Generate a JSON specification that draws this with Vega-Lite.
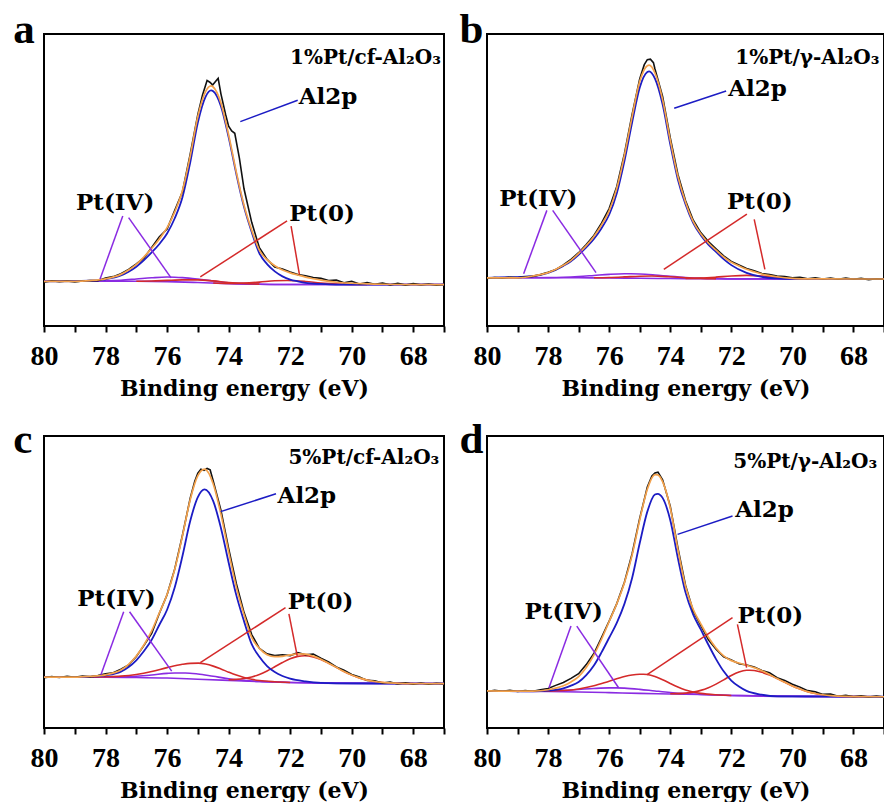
{
"$schema": "https://vega.github.io/schema/vega-lite/v6.json",
"background": "white",
"padding": {"left": 12, "top": 8, "right": 0, "bottom": 0},
"datasets": {
"d": [
{"p":"a","k":"c","s":"bg","x":80,"y":15.3},{"p":"a","k":"c","s":"bg","x":77,"y":15.3},{"p":"a","k":"c","s":"bg","x":76,"y":15.2},{"p":"a","k":"c","s":"bg","x":75,"y":14.9},{"p":"a","k":"c","s":"bg","x":74,"y":14.5},{"p":"a","k":"c","s":"bg","x":73,"y":14.3},{"p":"a","k":"c","s":"bg","x":72,"y":14.2},{"p":"a","k":"c","s":"bg","x":67,"y":14.2},
{"p":"a","k":"c","s":"p4","x":80,"y":15.3},{"p":"a","k":"c","s":"p4","x":78.5,"y":15.32},{"p":"a","k":"c","s":"p4","x":78,"y":15.44},{"p":"a","k":"c","s":"p4","x":77.5,"y":15.68},{"p":"a","k":"c","s":"p4","x":77,"y":16.08},{"p":"a","k":"c","s":"p4","x":76.5,"y":16.5},{"p":"a","k":"c","s":"p4","x":76,"y":16.77},{"p":"a","k":"c","s":"p4","x":75.75,"y":16.72},{"p":"a","k":"c","s":"p4","x":75.5,"y":16.58},{"p":"a","k":"c","s":"p4","x":75,"y":16.06},{"p":"a","k":"c","s":"p4","x":74.5,"y":15.39},{"p":"a","k":"c","s":"p4","x":74,"y":14.82},{"p":"a","k":"c","s":"p4","x":73.5,"y":14.51},{"p":"a","k":"c","s":"p4","x":73,"y":14.32},{"p":"a","k":"c","s":"p4","x":72,"y":14.2},{"p":"a","k":"c","s":"p4","x":67,"y":14.2},
{"p":"a","k":"c","s":"r1","x":74.5,"y":14.72},{"p":"a","k":"c","s":"r1","x":74,"y":14.58},{"p":"a","k":"c","s":"r1","x":73.5,"y":14.7},{"p":"a","k":"c","s":"r1","x":73,"y":15.04},{"p":"a","k":"c","s":"r1","x":72.5,"y":15.49},{"p":"a","k":"c","s":"r1","x":72.1,"y":15.6},{"p":"a","k":"c","s":"r1","x":71.5,"y":15.26},{"p":"a","k":"c","s":"r1","x":71,"y":14.74},{"p":"a","k":"c","s":"r1","x":70.5,"y":14.39},{"p":"a","k":"c","s":"r1","x":70,"y":14.24},{"p":"a","k":"c","s":"r1","x":69.5,"y":14.2},
{"p":"a","k":"c","s":"r2","x":77,"y":15.34},{"p":"a","k":"c","s":"r2","x":76.5,"y":15.4},{"p":"a","k":"c","s":"r2","x":76,"y":15.61},{"p":"a","k":"c","s":"r2","x":75.5,"y":15.79},{"p":"a","k":"c","s":"r2","x":75,"y":15.8},{"p":"a","k":"c","s":"r2","x":74.5,"y":15.44},{"p":"a","k":"c","s":"r2","x":74,"y":14.91},{"p":"a","k":"c","s":"r2","x":73.5,"y":14.55},{"p":"a","k":"c","s":"r2","x":73,"y":14.34},
{"p":"a","k":"c","s":"bl","x":80,"y":15.3},{"p":"a","k":"c","s":"bl","x":78.5,"y":15.5},{"p":"a","k":"c","s":"bl","x":78,"y":16.0},{"p":"a","k":"c","s":"bl","x":77.5,"y":17.3},{"p":"a","k":"c","s":"bl","x":77.25,"y":18.6},{"p":"a","k":"c","s":"bl","x":77,"y":20.3},{"p":"a","k":"c","s":"bl","x":76.75,"y":22.6},{"p":"a","k":"c","s":"bl","x":76.5,"y":25.2},{"p":"a","k":"c","s":"bl","x":76.25,"y":28.1},{"p":"a","k":"c","s":"bl","x":76,"y":31.7},{"p":"a","k":"c","s":"bl","x":75.75,"y":36.9},{"p":"a","k":"c","s":"bl","x":75.5,"y":44.1},{"p":"a","k":"c","s":"bl","x":75.25,"y":55.9},{"p":"a","k":"c","s":"bl","x":75,"y":69.7},{"p":"a","k":"c","s":"bl","x":74.75,"y":78.5},{"p":"a","k":"c","s":"bl","x":74.57,"y":80.7},{"p":"a","k":"c","s":"bl","x":74.5,"y":80.4},{"p":"a","k":"c","s":"bl","x":74.25,"y":75.3},{"p":"a","k":"c","s":"bl","x":74,"y":64.7},{"p":"a","k":"c","s":"bl","x":73.75,"y":52.1},{"p":"a","k":"c","s":"bl","x":73.5,"y":40.8},{"p":"a","k":"c","s":"bl","x":73.25,"y":32.2},{"p":"a","k":"c","s":"bl","x":73,"y":24.9},{"p":"a","k":"c","s":"bl","x":72.75,"y":21.2},{"p":"a","k":"c","s":"bl","x":72.5,"y":18.7},{"p":"a","k":"c","s":"bl","x":72.25,"y":17.0},{"p":"a","k":"c","s":"bl","x":72,"y":15.9},{"p":"a","k":"c","s":"bl","x":71.75,"y":15.3},{"p":"a","k":"c","s":"bl","x":71.5,"y":14.8},{"p":"a","k":"c","s":"bl","x":71,"y":14.4},{"p":"a","k":"c","s":"bl","x":70.5,"y":14.2},{"p":"a","k":"c","s":"bl","x":67,"y":14.2},
{"p":"a","k":"c","s":"or","x":80,"y":15.3},{"p":"a","k":"c","s":"or","x":79,"y":15.3},{"p":"a","k":"c","s":"or","x":78.5,"y":15.54},{"p":"a","k":"c","s":"or","x":78,"y":16.14},{"p":"a","k":"c","s":"or","x":77.5,"y":17.68},{"p":"a","k":"c","s":"or","x":77.25,"y":19.15},{"p":"a","k":"c","s":"or","x":77,"y":21.12},{"p":"a","k":"c","s":"or","x":76.75,"y":23.7},{"p":"a","k":"c","s":"or","x":76.5,"y":26.6},{"p":"a","k":"c","s":"or","x":76.25,"y":29.81},{"p":"a","k":"c","s":"or","x":76,"y":33.68},{"p":"a","k":"c","s":"or","x":75.75,"y":39.08},{"p":"a","k":"c","s":"or","x":75.5,"y":46.37},{"p":"a","k":"c","s":"or","x":75.25,"y":58.14},{"p":"a","k":"c","s":"or","x":75,"y":71.76},{"p":"a","k":"c","s":"or","x":74.75,"y":80.28},{"p":"a","k":"c","s":"or","x":74.57,"y":82.23},{"p":"a","k":"c","s":"or","x":74.5,"y":81.85},{"p":"a","k":"c","s":"or","x":74.25,"y":76.41},{"p":"a","k":"c","s":"or","x":74,"y":65.51},{"p":"a","k":"c","s":"or","x":73.75,"y":52.72},{"p":"a","k":"c","s":"or","x":73.5,"y":41.36},{"p":"a","k":"c","s":"or","x":73.25,"y":32.83},{"p":"a","k":"c","s":"or","x":73,"y":26.0},{"p":"a","k":"c","s":"or","x":72.75,"y":22.7},{"p":"a","k":"c","s":"or","x":72.5,"y":20.64},{"p":"a","k":"c","s":"or","x":72.25,"y":19.17},{"p":"a","k":"c","s":"or","x":72,"y":18.19},{"p":"a","k":"c","s":"or","x":71.75,"y":17.47},{"p":"a","k":"c","s":"or","x":71.5,"y":16.76},{"p":"a","k":"c","s":"or","x":71.25,"y":16.19},{"p":"a","k":"c","s":"or","x":71,"y":15.74},{"p":"a","k":"c","s":"or","x":70.5,"y":14.99},{"p":"a","k":"c","s":"or","x":70,"y":14.64},{"p":"a","k":"c","s":"or","x":69.5,"y":14.45},{"p":"a","k":"c","s":"or","x":69,"y":14.3},{"p":"a","k":"c","s":"or","x":68,"y":14.2},{"p":"a","k":"c","s":"or","x":67,"y":14.2},
{"p":"a","k":"c","s":"k","x":80,"y":15.0},{"p":"a","k":"c","s":"k","x":79.75,"y":15.5},{"p":"a","k":"c","s":"k","x":79.5,"y":15.2},{"p":"a","k":"c","s":"k","x":79.25,"y":15.4},{"p":"a","k":"c","s":"k","x":79,"y":15.1},{"p":"a","k":"c","s":"k","x":78.75,"y":15.4},{"p":"a","k":"c","s":"k","x":78.5,"y":15.6},{"p":"a","k":"c","s":"k","x":78.25,"y":15.5},{"p":"a","k":"c","s":"k","x":78,"y":16.4},{"p":"a","k":"c","s":"k","x":77.75,"y":16.9},{"p":"a","k":"c","s":"k","x":77.5,"y":17.9},{"p":"a","k":"c","s":"k","x":77.25,"y":19.4},{"p":"a","k":"c","s":"k","x":77,"y":21.3},{"p":"a","k":"c","s":"k","x":76.75,"y":23.3},{"p":"a","k":"c","s":"k","x":76.5,"y":26.9},{"p":"a","k":"c","s":"k","x":76.25,"y":30.6},{"p":"a","k":"c","s":"k","x":76,"y":33.2},{"p":"a","k":"c","s":"k","x":75.75,"y":39.6},{"p":"a","k":"c","s":"k","x":75.5,"y":46.0},{"p":"a","k":"c","s":"k","x":75.25,"y":58.8},{"p":"a","k":"c","s":"k","x":75,"y":72.5},{"p":"a","k":"c","s":"k","x":74.85,"y":79.0},{"p":"a","k":"c","s":"k","x":74.7,"y":84.1},{"p":"a","k":"c","s":"k","x":74.6,"y":83.4},{"p":"a","k":"c","s":"k","x":74.52,"y":82.5},{"p":"a","k":"c","s":"k","x":74.42,"y":83.8},{"p":"a","k":"c","s":"k","x":74.34,"y":84.8},{"p":"a","k":"c","s":"k","x":74.25,"y":79.5},{"p":"a","k":"c","s":"k","x":74.1,"y":72.5},{"p":"a","k":"c","s":"k","x":74,"y":68.4},{"p":"a","k":"c","s":"k","x":73.9,"y":66.8},{"p":"a","k":"c","s":"k","x":73.8,"y":66.0},{"p":"a","k":"c","s":"k","x":73.65,"y":57.5},{"p":"a","k":"c","s":"k","x":73.5,"y":47.0},{"p":"a","k":"c","s":"k","x":73.25,"y":35.5},{"p":"a","k":"c","s":"k","x":73,"y":26.8},{"p":"a","k":"c","s":"k","x":72.75,"y":22.8},{"p":"a","k":"c","s":"k","x":72.5,"y":20.2},{"p":"a","k":"c","s":"k","x":72.25,"y":19.5},{"p":"a","k":"c","s":"k","x":72,"y":18.5},{"p":"a","k":"c","s":"k","x":71.75,"y":17.6},{"p":"a","k":"c","s":"k","x":71.5,"y":17.2},{"p":"a","k":"c","s":"k","x":71.25,"y":16.6},{"p":"a","k":"c","s":"k","x":71,"y":16.3},{"p":"a","k":"c","s":"k","x":70.75,"y":15.6},{"p":"a","k":"c","s":"k","x":70.5,"y":15.7},{"p":"a","k":"c","s":"k","x":70.25,"y":14.8},{"p":"a","k":"c","s":"k","x":70,"y":15.3},{"p":"a","k":"c","s":"k","x":69.75,"y":14.4},{"p":"a","k":"c","s":"k","x":69.5,"y":14.9},{"p":"a","k":"c","s":"k","x":69.25,"y":14.3},{"p":"a","k":"c","s":"k","x":69,"y":14.7},{"p":"a","k":"c","s":"k","x":68.75,"y":14.1},{"p":"a","k":"c","s":"k","x":68.5,"y":14.6},{"p":"a","k":"c","s":"k","x":68.25,"y":14.0},{"p":"a","k":"c","s":"k","x":68,"y":14.5},{"p":"a","k":"c","s":"k","x":67.75,"y":14.1},{"p":"a","k":"c","s":"k","x":67.5,"y":14.4},{"p":"a","k":"c","s":"k","x":67.25,"y":14.0},{"p":"a","k":"c","s":"k","x":67,"y":14.2},

{"p":"b","k":"c","s":"bg","x":80,"y":16.5},{"p":"b","k":"c","s":"bg","x":77,"y":16.5},{"p":"b","k":"c","s":"bg","x":76,"y":16.45},{"p":"b","k":"c","s":"bg","x":75,"y":16.35},{"p":"b","k":"c","s":"bg","x":74,"y":16.25},{"p":"b","k":"c","s":"bg","x":73,"y":16.2},{"p":"b","k":"c","s":"bg","x":72,"y":16.15},{"p":"b","k":"c","s":"bg","x":67,"y":16.1},
{"p":"b","k":"c","s":"p4","x":80,"y":16.5},{"p":"b","k":"c","s":"p4","x":78.5,"y":16.52},{"p":"b","k":"c","s":"p4","x":78,"y":16.57},{"p":"b","k":"c","s":"p4","x":77.5,"y":16.7},{"p":"b","k":"c","s":"p4","x":77,"y":16.95},{"p":"b","k":"c","s":"p4","x":76.5,"y":17.31},{"p":"b","k":"c","s":"p4","x":76,"y":17.68},{"p":"b","k":"c","s":"p4","x":75.5,"y":17.88},{"p":"b","k":"c","s":"p4","x":75.3,"y":17.88},{"p":"b","k":"c","s":"p4","x":75,"y":17.8},{"p":"b","k":"c","s":"p4","x":74.5,"y":17.45},{"p":"b","k":"c","s":"p4","x":74,"y":17.0},{"p":"b","k":"c","s":"p4","x":73.5,"y":16.62},{"p":"b","k":"c","s":"p4","x":73,"y":16.37},{"p":"b","k":"c","s":"p4","x":72.5,"y":16.24},{"p":"b","k":"c","s":"p4","x":72,"y":16.15},{"p":"b","k":"c","s":"p4","x":67,"y":16.1},
{"p":"b","k":"c","s":"r1","x":73.5,"y":16.28},{"p":"b","k":"c","s":"r1","x":73,"y":16.41},{"p":"b","k":"c","s":"r1","x":72.5,"y":16.73},{"p":"b","k":"c","s":"r1","x":72,"y":17.14},{"p":"b","k":"c","s":"r1","x":71.5,"y":17.34},{"p":"b","k":"c","s":"r1","x":71,"y":17.12},{"p":"b","k":"c","s":"r1","x":70.5,"y":16.67},{"p":"b","k":"c","s":"r1","x":70,"y":16.33},{"p":"b","k":"c","s":"r1","x":69.5,"y":16.16},
{"p":"b","k":"c","s":"r2","x":76.5,"y":16.53},{"p":"b","k":"c","s":"r2","x":76,"y":16.62},{"p":"b","k":"c","s":"r2","x":75.5,"y":16.82},{"p":"b","k":"c","s":"r2","x":75,"y":17.06},{"p":"b","k":"c","s":"r2","x":74.6,"y":17.1},{"p":"b","k":"c","s":"r2","x":74,"y":16.85},{"p":"b","k":"c","s":"r2","x":73.5,"y":16.54},{"p":"b","k":"c","s":"r2","x":73,"y":16.31},{"p":"b","k":"c","s":"r2","x":72.5,"y":16.21},
{"p":"b","k":"c","s":"bl","x":80,"y":16.5},{"p":"b","k":"c","s":"bl","x":78.5,"y":17.1},{"p":"b","k":"c","s":"bl","x":78,"y":18.2},{"p":"b","k":"c","s":"bl","x":77.5,"y":20.6},{"p":"b","k":"c","s":"bl","x":77.25,"y":22.2},{"p":"b","k":"c","s":"bl","x":77,"y":24.4},{"p":"b","k":"c","s":"bl","x":76.75,"y":26.9},{"p":"b","k":"c","s":"bl","x":76.5,"y":29.8},{"p":"b","k":"c","s":"bl","x":76.25,"y":33.5},{"p":"b","k":"c","s":"bl","x":76,"y":38.1},{"p":"b","k":"c","s":"bl","x":75.75,"y":45.5},{"p":"b","k":"c","s":"bl","x":75.5,"y":56.5},{"p":"b","k":"c","s":"bl","x":75.25,"y":69.6},{"p":"b","k":"c","s":"bl","x":75,"y":81.6},{"p":"b","k":"c","s":"bl","x":74.75,"y":87.0},{"p":"b","k":"c","s":"bl","x":74.69,"y":87.2},{"p":"b","k":"c","s":"bl","x":74.5,"y":84.7},{"p":"b","k":"c","s":"bl","x":74.25,"y":75.9},{"p":"b","k":"c","s":"bl","x":74,"y":62.3},{"p":"b","k":"c","s":"bl","x":73.75,"y":50.2},{"p":"b","k":"c","s":"bl","x":73.5,"y":41.7},{"p":"b","k":"c","s":"bl","x":73.25,"y":35.3},{"p":"b","k":"c","s":"bl","x":73,"y":31.1},{"p":"b","k":"c","s":"bl","x":72.75,"y":27.9},{"p":"b","k":"c","s":"bl","x":72.5,"y":25.4},{"p":"b","k":"c","s":"bl","x":72.25,"y":22.9},{"p":"b","k":"c","s":"bl","x":72,"y":20.85},{"p":"b","k":"c","s":"bl","x":71.5,"y":18.2},{"p":"b","k":"c","s":"bl","x":71,"y":16.8},{"p":"b","k":"c","s":"bl","x":70.5,"y":16.3},{"p":"b","k":"c","s":"bl","x":70,"y":16.12},{"p":"b","k":"c","s":"bl","x":67,"y":16.1},
{"p":"b","k":"c","s":"or","x":80,"y":16.5},{"p":"b","k":"c","s":"or","x":79,"y":16.5},{"p":"b","k":"c","s":"or","x":78.5,"y":17.12},{"p":"b","k":"c","s":"or","x":78,"y":18.27},{"p":"b","k":"c","s":"or","x":77.5,"y":20.8},{"p":"b","k":"c","s":"or","x":77.25,"y":22.5},{"p":"b","k":"c","s":"or","x":77,"y":24.85},{"p":"b","k":"c","s":"or","x":76.75,"y":27.51},{"p":"b","k":"c","s":"or","x":76.5,"y":30.66},{"p":"b","k":"c","s":"or","x":76.25,"y":34.59},{"p":"b","k":"c","s":"or","x":76,"y":39.45},{"p":"b","k":"c","s":"or","x":75.75,"y":47.18},{"p":"b","k":"c","s":"or","x":75.5,"y":58.4},{"p":"b","k":"c","s":"or","x":75.25,"y":71.63},{"p":"b","k":"c","s":"or","x":75,"y":83.71},{"p":"b","k":"c","s":"or","x":74.75,"y":89.13},{"p":"b","k":"c","s":"or","x":74.69,"y":89.31},{"p":"b","k":"c","s":"or","x":74.5,"y":86.64},{"p":"b","k":"c","s":"or","x":74.25,"y":77.54},{"p":"b","k":"c","s":"or","x":74,"y":63.7},{"p":"b","k":"c","s":"or","x":73.75,"y":51.26},{"p":"b","k":"c","s":"or","x":73.5,"y":42.48},{"p":"b","k":"c","s":"or","x":73.25,"y":35.87},{"p":"b","k":"c","s":"or","x":73,"y":31.59},{"p":"b","k":"c","s":"or","x":72.75,"y":28.41},{"p":"b","k":"c","s":"or","x":72.5,"y":25.98},{"p":"b","k":"c","s":"or","x":72.25,"y":23.63},{"p":"b","k":"c","s":"or","x":72,"y":21.84},{"p":"b","k":"c","s":"or","x":71.75,"y":20.59},{"p":"b","k":"c","s":"or","x":71.5,"y":19.44},{"p":"b","k":"c","s":"or","x":71.25,"y":18.57},{"p":"b","k":"c","s":"or","x":71,"y":17.82},{"p":"b","k":"c","s":"or","x":70.5,"y":16.87},{"p":"b","k":"c","s":"or","x":70,"y":16.33},{"p":"b","k":"c","s":"or","x":69.5,"y":16.16},{"p":"b","k":"c","s":"or","x":69,"y":16.11},{"p":"b","k":"c","s":"or","x":67,"y":16.1},
{"p":"b","k":"c","s":"k","x":80,"y":16.3},{"p":"b","k":"c","s":"k","x":79.75,"y":16.6},{"p":"b","k":"c","s":"k","x":79.5,"y":16.4},{"p":"b","k":"c","s":"k","x":79.25,"y":16.7},{"p":"b","k":"c","s":"k","x":79,"y":16.5},{"p":"b","k":"c","s":"k","x":78.75,"y":16.8},{"p":"b","k":"c","s":"k","x":78.5,"y":17.0},{"p":"b","k":"c","s":"k","x":78.25,"y":17.6},{"p":"b","k":"c","s":"k","x":78,"y":18.4},{"p":"b","k":"c","s":"k","x":77.75,"y":19.3},{"p":"b","k":"c","s":"k","x":77.5,"y":20.9},{"p":"b","k":"c","s":"k","x":77.25,"y":22.8},{"p":"b","k":"c","s":"k","x":77,"y":25.1},{"p":"b","k":"c","s":"k","x":76.75,"y":27.9},{"p":"b","k":"c","s":"k","x":76.5,"y":31.0},{"p":"b","k":"c","s":"k","x":76.25,"y":35.2},{"p":"b","k":"c","s":"k","x":76,"y":40.2},{"p":"b","k":"c","s":"k","x":75.75,"y":47.8},{"p":"b","k":"c","s":"k","x":75.5,"y":59.0},{"p":"b","k":"c","s":"k","x":75.25,"y":72.4},{"p":"b","k":"c","s":"k","x":75,"y":84.6},{"p":"b","k":"c","s":"k","x":74.85,"y":89.5},{"p":"b","k":"c","s":"k","x":74.75,"y":91.2},{"p":"b","k":"c","s":"k","x":74.65,"y":91.4},{"p":"b","k":"c","s":"k","x":74.55,"y":90.2},{"p":"b","k":"c","s":"k","x":74.5,"y":88.0},{"p":"b","k":"c","s":"k","x":74.25,"y":78.6},{"p":"b","k":"c","s":"k","x":74,"y":64.5},{"p":"b","k":"c","s":"k","x":73.75,"y":52.0},{"p":"b","k":"c","s":"k","x":73.5,"y":43.0},{"p":"b","k":"c","s":"k","x":73.25,"y":36.3},{"p":"b","k":"c","s":"k","x":73,"y":32.0},{"p":"b","k":"c","s":"k","x":72.75,"y":28.9},{"p":"b","k":"c","s":"k","x":72.5,"y":26.4},{"p":"b","k":"c","s":"k","x":72.25,"y":24.0},{"p":"b","k":"c","s":"k","x":72,"y":22.1},{"p":"b","k":"c","s":"k","x":71.75,"y":20.9},{"p":"b","k":"c","s":"k","x":71.5,"y":19.7},{"p":"b","k":"c","s":"k","x":71.25,"y":18.9},{"p":"b","k":"c","s":"k","x":71,"y":18.0},{"p":"b","k":"c","s":"k","x":70.75,"y":17.6},{"p":"b","k":"c","s":"k","x":70.5,"y":17.1},{"p":"b","k":"c","s":"k","x":70.25,"y":16.9},{"p":"b","k":"c","s":"k","x":70,"y":16.5},{"p":"b","k":"c","s":"k","x":69.75,"y":16.7},{"p":"b","k":"c","s":"k","x":69.5,"y":16.2},{"p":"b","k":"c","s":"k","x":69.25,"y":16.5},{"p":"b","k":"c","s":"k","x":69,"y":16.1},{"p":"b","k":"c","s":"k","x":68.75,"y":16.4},{"p":"b","k":"c","s":"k","x":68.5,"y":16.0},{"p":"b","k":"c","s":"k","x":68.25,"y":16.4},{"p":"b","k":"c","s":"k","x":68,"y":16.0},{"p":"b","k":"c","s":"k","x":67.75,"y":16.3},{"p":"b","k":"c","s":"k","x":67.5,"y":15.9},{"p":"b","k":"c","s":"k","x":67.25,"y":16.2},{"p":"b","k":"c","s":"k","x":67,"y":16.0},

{"p":"c","k":"c","s":"bg","x":80,"y":17.4},{"p":"c","k":"c","s":"bg","x":78,"y":17.4},{"p":"c","k":"c","s":"bg","x":77,"y":17.3},{"p":"c","k":"c","s":"bg","x":76,"y":17.1},{"p":"c","k":"c","s":"bg","x":75,"y":16.7},{"p":"c","k":"c","s":"bg","x":74,"y":16.3},{"p":"c","k":"c","s":"bg","x":73,"y":15.9},{"p":"c","k":"c","s":"bg","x":72,"y":15.6},{"p":"c","k":"c","s":"bg","x":71,"y":15.35},{"p":"c","k":"c","s":"bg","x":70,"y":15.25},{"p":"c","k":"c","s":"bg","x":67,"y":15.2},
{"p":"c","k":"c","s":"p4","x":80,"y":17.4},{"p":"c","k":"c","s":"p4","x":78.5,"y":17.4},{"p":"c","k":"c","s":"p4","x":78,"y":17.43},{"p":"c","k":"c","s":"p4","x":77.5,"y":17.49},{"p":"c","k":"c","s":"p4","x":77,"y":17.72},{"p":"c","k":"c","s":"p4","x":76.5,"y":18.16},{"p":"c","k":"c","s":"p4","x":76,"y":18.71},{"p":"c","k":"c","s":"p4","x":75.75,"y":18.86},{"p":"c","k":"c","s":"p4","x":75.41,"y":18.86},{"p":"c","k":"c","s":"p4","x":75,"y":18.5},{"p":"c","k":"c","s":"p4","x":74.5,"y":17.7},{"p":"c","k":"c","s":"p4","x":74,"y":16.89},{"p":"c","k":"c","s":"p4","x":73.5,"y":16.31},{"p":"c","k":"c","s":"p4","x":73,"y":15.96},{"p":"c","k":"c","s":"p4","x":72.5,"y":15.75},{"p":"c","k":"c","s":"p4","x":72,"y":15.6},{"p":"c","k":"c","s":"p4","x":67,"y":15.2},
{"p":"c","k":"c","s":"r2","x":78.5,"y":17.43},{"p":"c","k":"c","s":"r2","x":78,"y":17.53},{"p":"c","k":"c","s":"r2","x":77.5,"y":17.75},{"p":"c","k":"c","s":"r2","x":77,"y":18.32},{"p":"c","k":"c","s":"r2","x":76.5,"y":19.32},{"p":"c","k":"c","s":"r2","x":76,"y":20.68},{"p":"c","k":"c","s":"r2","x":75.5,"y":21.82},{"p":"c","k":"c","s":"r2","x":75.25,"y":22.14},{"p":"c","k":"c","s":"r2","x":74.98,"y":22.21},{"p":"c","k":"c","s":"r2","x":74.75,"y":21.9},{"p":"c","k":"c","s":"r2","x":74.5,"y":21.19},{"p":"c","k":"c","s":"r2","x":74.25,"y":20.21},{"p":"c","k":"c","s":"r2","x":74,"y":19.13},{"p":"c","k":"c","s":"r2","x":73.75,"y":18.13},{"p":"c","k":"c","s":"r2","x":73.5,"y":17.31},{"p":"c","k":"c","s":"r2","x":73.25,"y":16.69},{"p":"c","k":"c","s":"r2","x":73,"y":16.26},{"p":"c","k":"c","s":"r2","x":72.5,"y":15.83},{"p":"c","k":"c","s":"r2","x":72,"y":15.6},
{"p":"c","k":"c","s":"r1","x":74,"y":16.51},{"p":"c","k":"c","s":"r1","x":73.75,"y":16.65},{"p":"c","k":"c","s":"r1","x":73.5,"y":16.95},{"p":"c","k":"c","s":"r1","x":73.25,"y":17.5},{"p":"c","k":"c","s":"r1","x":73,"y":18.35},{"p":"c","k":"c","s":"r1","x":72.75,"y":19.53},{"p":"c","k":"c","s":"r1","x":72.5,"y":20.95},{"p":"c","k":"c","s":"r1","x":72.25,"y":22.42},{"p":"c","k":"c","s":"r1","x":72,"y":23.72},{"p":"c","k":"c","s":"r1","x":71.75,"y":24.53},{"p":"c","k":"c","s":"r1","x":71.53,"y":24.76},{"p":"c","k":"c","s":"r1","x":71.25,"y":24.35},{"p":"c","k":"c","s":"r1","x":71,"y":23.43},{"p":"c","k":"c","s":"r1","x":70.75,"y":22.18},{"p":"c","k":"c","s":"r1","x":70.5,"y":20.77},{"p":"c","k":"c","s":"r1","x":70.25,"y":19.37},{"p":"c","k":"c","s":"r1","x":70,"y":18.13},{"p":"c","k":"c","s":"r1","x":69.75,"y":17.15},{"p":"c","k":"c","s":"r1","x":69.5,"y":16.42},{"p":"c","k":"c","s":"r1","x":69.25,"y":15.92},{"p":"c","k":"c","s":"r1","x":69,"y":15.6},{"p":"c","k":"c","s":"r1","x":68.5,"y":15.3},{"p":"c","k":"c","s":"r1","x":68,"y":15.2},
{"p":"c","k":"c","s":"bl","x":80,"y":17.4},{"p":"c","k":"c","s":"bl","x":78.5,"y":17.6},{"p":"c","k":"c","s":"bl","x":78,"y":18.05},{"p":"c","k":"c","s":"bl","x":77.5,"y":19.3},{"p":"c","k":"c","s":"bl","x":77.25,"y":20.9},{"p":"c","k":"c","s":"bl","x":77,"y":23.2},{"p":"c","k":"c","s":"bl","x":76.75,"y":26.35},{"p":"c","k":"c","s":"bl","x":76.5,"y":30.2},{"p":"c","k":"c","s":"bl","x":76.25,"y":35.35},{"p":"c","k":"c","s":"bl","x":76,"y":40.5},{"p":"c","k":"c","s":"bl","x":75.75,"y":48.2},{"p":"c","k":"c","s":"bl","x":75.5,"y":58.9},{"p":"c","k":"c","s":"bl","x":75.25,"y":70.8},{"p":"c","k":"c","s":"bl","x":75,"y":79.1},{"p":"c","k":"c","s":"bl","x":74.78,"y":81.72},{"p":"c","k":"c","s":"bl","x":74.5,"y":77.7},{"p":"c","k":"c","s":"bl","x":74.25,"y":68.5},{"p":"c","k":"c","s":"bl","x":74,"y":56.7},{"p":"c","k":"c","s":"bl","x":73.75,"y":45.5},{"p":"c","k":"c","s":"bl","x":73.5,"y":36.6},{"p":"c","k":"c","s":"bl","x":73.25,"y":28.7},{"p":"c","k":"c","s":"bl","x":73,"y":24.4},{"p":"c","k":"c","s":"bl","x":72.75,"y":21.2},{"p":"c","k":"c","s":"bl","x":72.5,"y":19.15},{"p":"c","k":"c","s":"bl","x":72.25,"y":17.8},{"p":"c","k":"c","s":"bl","x":72,"y":16.9},{"p":"c","k":"c","s":"bl","x":71.5,"y":15.97},{"p":"c","k":"c","s":"bl","x":71,"y":15.45},{"p":"c","k":"c","s":"bl","x":70.5,"y":15.3},{"p":"c","k":"c","s":"bl","x":67,"y":15.2},
{"p":"c","k":"c","s":"or","x":80,"y":17.4},{"p":"c","k":"c","s":"or","x":79,"y":17.4},{"p":"c","k":"c","s":"or","x":78.5,"y":17.68},{"p":"c","k":"c","s":"or","x":78,"y":18.21},{"p":"c","k":"c","s":"or","x":77.5,"y":19.84},{"p":"c","k":"c","s":"or","x":77.25,"y":21.82},{"p":"c","k":"c","s":"or","x":77,"y":24.64},{"p":"c","k":"c","s":"or","x":76.75,"y":28.52},{"p":"c","k":"c","s":"or","x":76.5,"y":33.28},{"p":"c","k":"c","s":"or","x":76.25,"y":39.47},{"p":"c","k":"c","s":"or","x":76,"y":45.69},{"p":"c","k":"c","s":"or","x":75.75,"y":54.37},{"p":"c","k":"c","s":"or","x":75.5,"y":65.8},{"p":"c","k":"c","s":"or","x":75.25,"y":78.11},{"p":"c","k":"c","s":"or","x":75,"y":86.4},{"p":"c","k":"c","s":"or","x":74.78,"y":88.67},{"p":"c","k":"c","s":"or","x":74.5,"y":83.59},{"p":"c","k":"c","s":"or","x":74.25,"y":73.23},{"p":"c","k":"c","s":"or","x":74,"y":60.33},{"p":"c","k":"c","s":"or","x":73.75,"y":48.25},{"p":"c","k":"c","s":"or","x":73.5,"y":38.87},{"p":"c","k":"c","s":"or","x":73.25,"y":31.01},{"p":"c","k":"c","s":"or","x":73,"y":27.27},{"p":"c","k":"c","s":"or","x":72.75,"y":25.11},{"p":"c","k":"c","s":"or","x":72.5,"y":24.43},{"p":"c","k":"c","s":"or","x":72.25,"y":24.55},{"p":"c","k":"c","s":"or","x":72,"y":25.02},{"p":"c","k":"c","s":"or","x":71.75,"y":25.38},{"p":"c","k":"c","s":"or","x":71.5,"y":25.27},{"p":"c","k":"c","s":"or","x":71.25,"y":24.6},{"p":"c","k":"c","s":"or","x":71,"y":23.53},{"p":"c","k":"c","s":"or","x":70.75,"y":22.18},{"p":"c","k":"c","s":"or","x":70.5,"y":20.77},{"p":"c","k":"c","s":"or","x":70.25,"y":19.37},{"p":"c","k":"c","s":"or","x":70,"y":18.13},{"p":"c","k":"c","s":"or","x":69.75,"y":17.15},{"p":"c","k":"c","s":"or","x":69.5,"y":16.42},{"p":"c","k":"c","s":"or","x":69.25,"y":15.92},{"p":"c","k":"c","s":"or","x":69,"y":15.6},{"p":"c","k":"c","s":"or","x":68.5,"y":15.31},{"p":"c","k":"c","s":"or","x":68,"y":15.2},{"p":"c","k":"c","s":"or","x":67,"y":15.2},
{"p":"c","k":"c","s":"k","x":80,"y":17.2},{"p":"c","k":"c","s":"k","x":79.75,"y":17.6},{"p":"c","k":"c","s":"k","x":79.5,"y":17.3},{"p":"c","k":"c","s":"k","x":79.25,"y":17.7},{"p":"c","k":"c","s":"k","x":79,"y":17.4},{"p":"c","k":"c","s":"k","x":78.75,"y":17.8},{"p":"c","k":"c","s":"k","x":78.5,"y":17.5},{"p":"c","k":"c","s":"k","x":78.25,"y":18.0},{"p":"c","k":"c","s":"k","x":78,"y":18.6},{"p":"c","k":"c","s":"k","x":77.75,"y":18.9},{"p":"c","k":"c","s":"k","x":77.5,"y":20.1},{"p":"c","k":"c","s":"k","x":77.25,"y":21.6},{"p":"c","k":"c","s":"k","x":77,"y":24.5},{"p":"c","k":"c","s":"k","x":76.75,"y":28.3},{"p":"c","k":"c","s":"k","x":76.5,"y":32.4},{"p":"c","k":"c","s":"k","x":76.25,"y":39.3},{"p":"c","k":"c","s":"k","x":76,"y":45.6},{"p":"c","k":"c","s":"k","x":75.75,"y":54.5},{"p":"c","k":"c","s":"k","x":75.5,"y":66.0},{"p":"c","k":"c","s":"k","x":75.25,"y":78.6},{"p":"c","k":"c","s":"k","x":75.1,"y":84.5},{"p":"c","k":"c","s":"k","x":75,"y":87.3},{"p":"c","k":"c","s":"k","x":74.9,"y":88.6},{"p":"c","k":"c","s":"k","x":74.8,"y":88.2},{"p":"c","k":"c","s":"k","x":74.7,"y":88.9},{"p":"c","k":"c","s":"k","x":74.6,"y":88.4},{"p":"c","k":"c","s":"k","x":74.5,"y":84.6},{"p":"c","k":"c","s":"k","x":74.25,"y":74.6},{"p":"c","k":"c","s":"k","x":74,"y":61.5},{"p":"c","k":"c","s":"k","x":73.75,"y":49.5},{"p":"c","k":"c","s":"k","x":73.5,"y":39.6},{"p":"c","k":"c","s":"k","x":73.25,"y":32.0},{"p":"c","k":"c","s":"k","x":73,"y":27.3},{"p":"c","k":"c","s":"k","x":72.75,"y":25.4},{"p":"c","k":"c","s":"k","x":72.5,"y":24.8},{"p":"c","k":"c","s":"k","x":72.25,"y":25.1},{"p":"c","k":"c","s":"k","x":72,"y":24.8},{"p":"c","k":"c","s":"k","x":71.75,"y":25.8},{"p":"c","k":"c","s":"k","x":71.5,"y":25.1},{"p":"c","k":"c","s":"k","x":71.25,"y":25.3},{"p":"c","k":"c","s":"k","x":71,"y":23.9},{"p":"c","k":"c","s":"k","x":70.75,"y":22.6},{"p":"c","k":"c","s":"k","x":70.5,"y":20.9},{"p":"c","k":"c","s":"k","x":70.25,"y":19.8},{"p":"c","k":"c","s":"k","x":70,"y":18.3},{"p":"c","k":"c","s":"k","x":69.75,"y":17.5},{"p":"c","k":"c","s":"k","x":69.5,"y":16.3},{"p":"c","k":"c","s":"k","x":69.25,"y":16.2},{"p":"c","k":"c","s":"k","x":69,"y":15.4},{"p":"c","k":"c","s":"k","x":68.75,"y":15.7},{"p":"c","k":"c","s":"k","x":68.5,"y":15.1},{"p":"c","k":"c","s":"k","x":68.25,"y":15.5},{"p":"c","k":"c","s":"k","x":68,"y":15.0},{"p":"c","k":"c","s":"k","x":67.75,"y":15.4},{"p":"c","k":"c","s":"k","x":67.5,"y":15.0},{"p":"c","k":"c","s":"k","x":67.25,"y":15.3},{"p":"c","k":"c","s":"k","x":67,"y":15.1},

{"p":"d","k":"c","s":"bg","x":80,"y":12.7},{"p":"d","k":"c","s":"bg","x":78,"y":12.5},{"p":"d","k":"c","s":"bg","x":77,"y":12.35},{"p":"d","k":"c","s":"bg","x":76,"y":12.1},{"p":"d","k":"c","s":"bg","x":75,"y":11.85},{"p":"d","k":"c","s":"bg","x":74,"y":11.65},{"p":"d","k":"c","s":"bg","x":73,"y":11.45},{"p":"d","k":"c","s":"bg","x":72,"y":11.15},{"p":"d","k":"c","s":"bg","x":71,"y":10.9},{"p":"d","k":"c","s":"bg","x":70,"y":10.78},{"p":"d","k":"c","s":"bg","x":69,"y":10.73},{"p":"d","k":"c","s":"bg","x":67,"y":10.7},
{"p":"d","k":"c","s":"p4","x":80,"y":12.7},{"p":"d","k":"c","s":"p4","x":78.5,"y":12.62},{"p":"d","k":"c","s":"p4","x":78,"y":12.69},{"p":"d","k":"c","s":"p4","x":77.5,"y":12.88},{"p":"d","k":"c","s":"p4","x":77,"y":13.2},{"p":"d","k":"c","s":"p4","x":76.5,"y":13.54},{"p":"d","k":"c","s":"p4","x":76,"y":13.74},{"p":"d","k":"c","s":"p4","x":75.75,"y":13.74},{"p":"d","k":"c","s":"p4","x":75.5,"y":13.65},{"p":"d","k":"c","s":"p4","x":75,"y":13.24},{"p":"d","k":"c","s":"p4","x":74.5,"y":12.69},{"p":"d","k":"c","s":"p4","x":74,"y":12.17},{"p":"d","k":"c","s":"p4","x":73.5,"y":11.78},{"p":"d","k":"c","s":"p4","x":73,"y":11.53},{"p":"d","k":"c","s":"p4","x":72.5,"y":11.32},{"p":"d","k":"c","s":"p4","x":72,"y":11.15},{"p":"d","k":"c","s":"p4","x":67,"y":10.7},
{"p":"d","k":"c","s":"r2","x":78.5,"y":12.58},{"p":"d","k":"c","s":"r2","x":78,"y":12.62},{"p":"d","k":"c","s":"r2","x":77.5,"y":12.82},{"p":"d","k":"c","s":"r2","x":77,"y":13.38},{"p":"d","k":"c","s":"r2","x":76.5,"y":14.46},{"p":"d","k":"c","s":"r2","x":76,"y":16.03},{"p":"d","k":"c","s":"r2","x":75.5,"y":17.61},{"p":"d","k":"c","s":"r2","x":75.25,"y":18.15},{"p":"d","k":"c","s":"r2","x":75,"y":18.41},{"p":"d","k":"c","s":"r2","x":74.88,"y":18.43},{"p":"d","k":"c","s":"r2","x":74.75,"y":18.31},{"p":"d","k":"c","s":"r2","x":74.5,"y":17.64},{"p":"d","k":"c","s":"r2","x":74.25,"y":16.55},{"p":"d","k":"c","s":"r2","x":74,"y":15.25},{"p":"d","k":"c","s":"r2","x":73.75,"y":14.04},{"p":"d","k":"c","s":"r2","x":73.5,"y":13.04},{"p":"d","k":"c","s":"r2","x":73.25,"y":12.33},{"p":"d","k":"c","s":"r2","x":73,"y":11.87},{"p":"d","k":"c","s":"r2","x":72.5,"y":11.38},{"p":"d","k":"c","s":"r2","x":72,"y":11.15},
{"p":"d","k":"c","s":"r1","x":74,"y":11.72},{"p":"d","k":"c","s":"r1","x":73.5,"y":11.94},{"p":"d","k":"c","s":"r1","x":73.25,"y":12.28},{"p":"d","k":"c","s":"r1","x":73,"y":12.88},{"p":"d","k":"c","s":"r1","x":72.75,"y":13.79},{"p":"d","k":"c","s":"r1","x":72.5,"y":15.03},{"p":"d","k":"c","s":"r1","x":72.25,"y":16.49},{"p":"d","k":"c","s":"r1","x":72,"y":17.97},{"p":"d","k":"c","s":"r1","x":71.75,"y":19.16},{"p":"d","k":"c","s":"r1","x":71.5,"y":19.77},{"p":"d","k":"c","s":"r1","x":71.4,"y":19.8},{"p":"d","k":"c","s":"r1","x":71.25,"y":19.67},{"p":"d","k":"c","s":"r1","x":71,"y":19.08},{"p":"d","k":"c","s":"r1","x":70.75,"y":18.14},{"p":"d","k":"c","s":"r1","x":70.5,"y":16.93},{"p":"d","k":"c","s":"r1","x":70.25,"y":15.64},{"p":"d","k":"c","s":"r1","x":70,"y":14.4},{"p":"d","k":"c","s":"r1","x":69.75,"y":13.33},{"p":"d","k":"c","s":"r1","x":69.5,"y":12.46},{"p":"d","k":"c","s":"r1","x":69.25,"y":11.82},{"p":"d","k":"c","s":"r1","x":69,"y":11.38},{"p":"d","k":"c","s":"r1","x":68.75,"y":11.08},{"p":"d","k":"c","s":"r1","x":68.5,"y":10.91},{"p":"d","k":"c","s":"r1","x":68,"y":10.75},{"p":"d","k":"c","s":"r1","x":67.5,"y":10.7},
{"p":"d","k":"c","s":"bl","x":80,"y":12.7},{"p":"d","k":"c","s":"bl","x":78.5,"y":12.55},{"p":"d","k":"c","s":"bl","x":78,"y":12.8},{"p":"d","k":"c","s":"bl","x":77.5,"y":13.6},{"p":"d","k":"c","s":"bl","x":77.25,"y":14.5},{"p":"d","k":"c","s":"bl","x":77,"y":15.75},{"p":"d","k":"c","s":"bl","x":76.75,"y":18.1},{"p":"d","k":"c","s":"bl","x":76.5,"y":21.4},{"p":"d","k":"c","s":"bl","x":76.25,"y":25.9},{"p":"d","k":"c","s":"bl","x":76,"y":30.9},{"p":"d","k":"c","s":"bl","x":75.75,"y":36.0},{"p":"d","k":"c","s":"bl","x":75.5,"y":42.5},{"p":"d","k":"c","s":"bl","x":75.25,"y":51.3},{"p":"d","k":"c","s":"bl","x":75,"y":63.25},{"p":"d","k":"c","s":"bl","x":74.75,"y":74.1},{"p":"d","k":"c","s":"bl","x":74.5,"y":79.95},{"p":"d","k":"c","s":"bl","x":74.41,"y":80.2},{"p":"d","k":"c","s":"bl","x":74.25,"y":78.8},{"p":"d","k":"c","s":"bl","x":74,"y":71.25},{"p":"d","k":"c","s":"bl","x":73.75,"y":58.2},{"p":"d","k":"c","s":"bl","x":73.5,"y":46.45},{"p":"d","k":"c","s":"bl","x":73.25,"y":38.9},{"p":"d","k":"c","s":"bl","x":73,"y":33.75},{"p":"d","k":"c","s":"bl","x":72.75,"y":28.5},{"p":"d","k":"c","s":"bl","x":72.5,"y":23.6},{"p":"d","k":"c","s":"bl","x":72.25,"y":19.4},{"p":"d","k":"c","s":"bl","x":72,"y":16.25},{"p":"d","k":"c","s":"bl","x":71.75,"y":14.2},{"p":"d","k":"c","s":"bl","x":71.5,"y":12.7},{"p":"d","k":"c","s":"bl","x":71,"y":11.4},{"p":"d","k":"c","s":"bl","x":70.5,"y":10.84},{"p":"d","k":"c","s":"bl","x":67,"y":10.7},
{"p":"d","k":"c","s":"or","x":80,"y":12.7},{"p":"d","k":"c","s":"or","x":79,"y":12.6},{"p":"d","k":"c","s":"or","x":78.5,"y":12.65},{"p":"d","k":"c","s":"or","x":78,"y":13.11},{"p":"d","k":"c","s":"or","x":77.5,"y":14.47},{"p":"d","k":"c","s":"or","x":77.25,"y":15.78},{"p":"d","k":"c","s":"or","x":77,"y":17.63},{"p":"d","k":"c","s":"or","x":76.75,"y":20.73},{"p":"d","k":"c","s":"or","x":76.5,"y":24.97},{"p":"d","k":"c","s":"or","x":76.25,"y":30.4},{"p":"d","k":"c","s":"or","x":76,"y":36.47},{"p":"d","k":"c","s":"or","x":75.75,"y":42.57},{"p":"d","k":"c","s":"or","x":75.5,"y":49.78},{"p":"d","k":"c","s":"or","x":75.25,"y":59.11},{"p":"d","k":"c","s":"or","x":75,"y":71.2},{"p":"d","k":"c","s":"or","x":74.75,"y":81.78},{"p":"d","k":"c","s":"or","x":74.5,"y":86.78},{"p":"d","k":"c","s":"or","x":74.41,"y":86.69},{"p":"d","k":"c","s":"or","x":74.25,"y":84.36},{"p":"d","k":"c","s":"or","x":74,"y":75.44},{"p":"d","k":"c","s":"or","x":73.75,"y":61.16},{"p":"d","k":"c","s":"or","x":73.5,"y":48.56},{"p":"d","k":"c","s":"or","x":73.25,"y":40.66},{"p":"d","k":"c","s":"or","x":73,"y":35.68},{"p":"d","k":"c","s":"or","x":72.75,"y":31.08},{"p":"d","k":"c","s":"or","x":72.5,"y":27.41},{"p":"d","k":"c","s":"or","x":72.25,"y":24.69},{"p":"d","k":"c","s":"or","x":72,"y":23.07},{"p":"d","k":"c","s":"or","x":71.75,"y":22.26},{"p":"d","k":"c","s":"or","x":71.5,"y":21.47},{"p":"d","k":"c","s":"or","x":71.25,"y":20.67},{"p":"d","k":"c","s":"or","x":71,"y":19.58},{"p":"d","k":"c","s":"or","x":70.75,"y":18.34},{"p":"d","k":"c","s":"or","x":70.5,"y":16.93},{"p":"d","k":"c","s":"or","x":70.25,"y":15.64},{"p":"d","k":"c","s":"or","x":70,"y":14.4},{"p":"d","k":"c","s":"or","x":69.75,"y":13.33},{"p":"d","k":"c","s":"or","x":69.5,"y":12.46},{"p":"d","k":"c","s":"or","x":69.25,"y":11.82},{"p":"d","k":"c","s":"or","x":69,"y":11.38},{"p":"d","k":"c","s":"or","x":68.75,"y":11.08},{"p":"d","k":"c","s":"or","x":68.5,"y":10.91},{"p":"d","k":"c","s":"or","x":68,"y":10.75},{"p":"d","k":"c","s":"or","x":67,"y":10.7},
{"p":"d","k":"c","s":"k","x":80,"y":12.5},{"p":"d","k":"c","s":"k","x":79.75,"y":12.9},{"p":"d","k":"c","s":"k","x":79.5,"y":12.6},{"p":"d","k":"c","s":"k","x":79.25,"y":12.9},{"p":"d","k":"c","s":"k","x":79,"y":12.5},{"p":"d","k":"c","s":"k","x":78.75,"y":12.8},{"p":"d","k":"c","s":"k","x":78.5,"y":12.6},{"p":"d","k":"c","s":"k","x":78.25,"y":13.1},{"p":"d","k":"c","s":"k","x":78,"y":13.5},{"p":"d","k":"c","s":"k","x":77.75,"y":14.6},{"p":"d","k":"c","s":"k","x":77.5,"y":15.6},{"p":"d","k":"c","s":"k","x":77.25,"y":17.0},{"p":"d","k":"c","s":"k","x":77,"y":18.6},{"p":"d","k":"c","s":"k","x":76.75,"y":21.7},{"p":"d","k":"c","s":"k","x":76.5,"y":25.5},{"p":"d","k":"c","s":"k","x":76.25,"y":31.0},{"p":"d","k":"c","s":"k","x":76,"y":36.6},{"p":"d","k":"c","s":"k","x":75.75,"y":42.6},{"p":"d","k":"c","s":"k","x":75.5,"y":49.9},{"p":"d","k":"c","s":"k","x":75.25,"y":59.6},{"p":"d","k":"c","s":"k","x":75,"y":71.8},{"p":"d","k":"c","s":"k","x":74.75,"y":82.5},{"p":"d","k":"c","s":"k","x":74.6,"y":86.3},{"p":"d","k":"c","s":"k","x":74.5,"y":87.3},{"p":"d","k":"c","s":"k","x":74.4,"y":87.6},{"p":"d","k":"c","s":"k","x":74.25,"y":85.0},{"p":"d","k":"c","s":"k","x":74,"y":76.0},{"p":"d","k":"c","s":"k","x":73.75,"y":61.8},{"p":"d","k":"c","s":"k","x":73.5,"y":48.9},{"p":"d","k":"c","s":"k","x":73.25,"y":40.2},{"p":"d","k":"c","s":"k","x":73,"y":35.1},{"p":"d","k":"c","s":"k","x":72.75,"y":30.2},{"p":"d","k":"c","s":"k","x":72.5,"y":27.0},{"p":"d","k":"c","s":"k","x":72.25,"y":24.4},{"p":"d","k":"c","s":"k","x":72,"y":23.3},{"p":"d","k":"c","s":"k","x":71.75,"y":22.0},{"p":"d","k":"c","s":"k","x":71.5,"y":21.6},{"p":"d","k":"c","s":"k","x":71.25,"y":20.9},{"p":"d","k":"c","s":"k","x":71,"y":19.7},{"p":"d","k":"c","s":"k","x":70.75,"y":18.9},{"p":"d","k":"c","s":"k","x":70.5,"y":17.2},{"p":"d","k":"c","s":"k","x":70.25,"y":16.3},{"p":"d","k":"c","s":"k","x":70,"y":15.0},{"p":"d","k":"c","s":"k","x":69.75,"y":14.0},{"p":"d","k":"c","s":"k","x":69.5,"y":12.8},{"p":"d","k":"c","s":"k","x":69.25,"y":12.4},{"p":"d","k":"c","s":"k","x":69,"y":11.5},{"p":"d","k":"c","s":"k","x":68.75,"y":11.6},{"p":"d","k":"c","s":"k","x":68.5,"y":10.9},{"p":"d","k":"c","s":"k","x":68.25,"y":11.2},{"p":"d","k":"c","s":"k","x":68,"y":10.7},{"p":"d","k":"c","s":"k","x":67.75,"y":11.0},{"p":"d","k":"c","s":"k","x":67.5,"y":10.6},{"p":"d","k":"c","s":"k","x":67.25,"y":10.9},{"p":"d","k":"c","s":"k","x":67,"y":10.6},

{"p":"a","k":"r","s":"al","x":71.755,"y":77.3,"x2":73.62,"y2":70.0},{"p":"a","k":"r","s":"p4","x":77.44,"y":37.7,"x2":78.18,"y2":16.0},{"p":"a","k":"r","s":"p4","x":77.25,"y":37.1,"x2":75.87,"y2":16.5},{"p":"a","k":"r","s":"r1","x":72.1,"y":36.0,"x2":74.92,"y2":16.8},{"p":"a","k":"r","s":"r1","x":71.97,"y":34.2,"x2":71.7,"y2":17.7},
{"p":"b","k":"r","s":"al","x":72.17,"y":80.5,"x2":73.87,"y2":74.6},{"p":"b","k":"r","s":"p4","x":78.04,"y":39.6,"x2":78.8,"y2":17.9},{"p":"b","k":"r","s":"p4","x":77.85,"y":39.6,"x2":76.43,"y2":18.3},{"p":"b","k":"r","s":"r1","x":71.49,"y":38.3,"x2":74.21,"y2":19.4},{"p":"b","k":"r","s":"r1","x":71.25,"y":36.5,"x2":70.9,"y2":19.4},
{"p":"c","k":"r","s":"al","x":72.46,"y":80.2,"x2":74.26,"y2":74.1},{"p":"c","k":"r","s":"p4","x":77.41,"y":39.8,"x2":78.15,"y2":18.2},{"p":"c","k":"r","s":"p4","x":77.22,"y":39.8,"x2":75.85,"y2":19.5},{"p":"c","k":"r","s":"r1","x":72.15,"y":41.2,"x2":74.92,"y2":22.4},{"p":"c","k":"r","s":"r1","x":72.04,"y":39.1,"x2":71.77,"y2":24.7},
{"p":"d","k":"r","s":"al","x":71.96,"y":72.6,"x2":73.76,"y2":66.3},{"p":"d","k":"r","s":"p4","x":77.25,"y":34.9,"x2":77.97,"y2":13.8},{"p":"d","k":"r","s":"p4","x":77.06,"y":34.9,"x2":75.69,"y2":13.8},{"p":"d","k":"r","s":"r1","x":71.96,"y":37.8,"x2":74.77,"y2":18.2},{"p":"d","k":"r","s":"r1","x":71.8,"y":35.5,"x2":71.5,"y2":20.7},

{"p":"a","k":"t","t":"Al2p","x":71.72,"y":75.9},{"p":"a","k":"t","t":"Pt(IV)","x":78.96,"y":39.6},{"p":"a","k":"t","t":"Pt(0)","x":72.03,"y":36.0},
{"p":"b","k":"t","t":"Al2p","x":72.1,"y":78.8},{"p":"b","k":"t","t":"Pt(IV)","x":79.6,"y":41.1},{"p":"b","k":"t","t":"Pt(0)","x":72.14,"y":40.0},
{"p":"c","k":"t","t":"Al2p","x":72.41,"y":77.2},{"p":"c","k":"t","t":"Pt(IV)","x":78.92,"y":41.8},{"p":"c","k":"t","t":"Pt(0)","x":72.08,"y":40.6},
{"p":"d","k":"t","t":"Al2p","x":71.87,"y":72.4},{"p":"d","k":"t","t":"Pt(IV)","x":78.77,"y":37.2},{"p":"d","k":"t","t":"Pt(0)","x":71.8,"y":36.1},
{"p":"a","k":"m","t":"1%Pt/cf-Al₂O₃","x":67.1,"y":89.8},{"p":"b","k":"m","t":"1%Pt/γ-Al₂O₃","x":67.15,"y":89.6},{"p":"c","k":"m","t":"5%Pt/cf-Al₂O₃","x":67.15,"y":90.3},{"p":"d","k":"m","t":"5%Pt/γ-Al₂O₃","x":67.22,"y":89.1},
{"p":"a","k":"l","t":"a","x":81.0,"y":96.9},{"p":"b","k":"l","t":"b","x":80.9,"y":96.9},{"p":"c","k":"l","t":"c","x":81.0,"y":94.2},{"p":"d","k":"l","t":"d","x":80.9,"y":94.2}
]
},
"columns": 2,
"spacing": {"row": 110, "column": 43},
"bounds": "flush",
"concat": [
  {"width": 400, "height": 292, "data": {"name": "d"}, "transform": [{"filter": "datum.p == 'a'"}],
   "encoding": {"x": {"field": "x", "type": "quantitative", "title": "Binding energy (eV)", "scale": {"domain": [67, 80], "reverse": true, "nice": false, "zero": false}}, "y": {"field": "y", "type": "quantitative", "axis": null, "scale": {"domain": [0, 100], "nice": false, "zero": false}}},
   "layer": [
    {"transform": [{"filter": "datum.k == 'c' && (datum.s == 'bg' || datum.s == 'p4')"}], "mark": {"type": "line", "strokeWidth": 1.6, "interpolate": "monotone"}, "encoding": {"color": {"field": "s", "type": "nominal", "legend": null, "scale": {"domain": ["bg","p4","r1","r2","bl","k","or","al"], "range": ["#8a2be2","#8a2be2","#d42a2a","#d42a2a","#1c1cc4","#111111","#f4a24c","#1c1cc4"]}}}},
    {"transform": [{"filter": "datum.k == 'c' && (datum.s == 'r1' || datum.s == 'r2')"}], "mark": {"type": "line", "strokeWidth": 1.6, "interpolate": "monotone"}, "encoding": {"color": {"field": "s", "type": "nominal", "legend": null}}},
    {"transform": [{"filter": "datum.k == 'c' && datum.s == 'bl'"}], "mark": {"type": "line", "strokeWidth": 1.8, "interpolate": "monotone"}, "encoding": {"color": {"field": "s", "type": "nominal", "legend": null}}},
    {"transform": [{"filter": "datum.k == 'c' && datum.s == 'k'"}], "mark": {"type": "line", "strokeWidth": 1.6, "interpolate": "linear"}, "encoding": {"color": {"field": "s", "type": "nominal", "legend": null}}},
    {"transform": [{"filter": "datum.k == 'c' && datum.s == 'or'"}], "mark": {"type": "line", "strokeWidth": 1.7, "interpolate": "monotone"}, "encoding": {"color": {"field": "s", "type": "nominal", "legend": null}}},
    {"transform": [{"filter": "datum.k == 'r'"}], "mark": {"type": "rule", "strokeWidth": 1.5}, "encoding": {"x2": {"field": "x2"}, "y2": {"field": "y2"}, "color": {"field": "s", "type": "nominal", "legend": null}}},
    {"transform": [{"filter": "datum.k == 't'"}], "mark": {"type": "text", "font": "DejaVu Serif", "fontWeight": "bold", "fontSize": 23, "align": "left", "baseline": "alphabetic", "color": "black"}, "encoding": {"text": {"field": "t"}}},
    {"transform": [{"filter": "datum.k == 'm'"}], "mark": {"type": "text", "font": "DejaVu Serif", "fontWeight": "bold", "fontSize": 20, "align": "right", "baseline": "alphabetic", "color": "black"}, "encoding": {"text": {"field": "t"}}},
    {"transform": [{"filter": "datum.k == 'l'"}], "mark": {"type": "text", "font": "Liberation Serif", "fontWeight": "bold", "fontSize": 43, "align": "left", "baseline": "alphabetic", "color": "black"}, "encoding": {"text": {"field": "t"}}}
   ]},
  {"width": 397, "height": 292, "data": {"name": "d"}, "transform": [{"filter": "datum.p == 'b'"}],
   "encoding": {"x": {"field": "x", "type": "quantitative", "title": "Binding energy (eV)", "scale": {"domain": [67, 80], "reverse": true, "nice": false, "zero": false}}, "y": {"field": "y", "type": "quantitative", "axis": null, "scale": {"domain": [0, 100], "nice": false, "zero": false}}},
   "layer": [
    {"transform": [{"filter": "datum.k == 'c' && (datum.s == 'bg' || datum.s == 'p4')"}], "mark": {"type": "line", "strokeWidth": 1.6, "interpolate": "monotone"}, "encoding": {"color": {"field": "s", "type": "nominal", "legend": null, "scale": {"domain": ["bg","p4","r1","r2","bl","k","or","al"], "range": ["#8a2be2","#8a2be2","#d42a2a","#d42a2a","#1c1cc4","#111111","#f4a24c","#1c1cc4"]}}}},
    {"transform": [{"filter": "datum.k == 'c' && (datum.s == 'r1' || datum.s == 'r2')"}], "mark": {"type": "line", "strokeWidth": 1.6, "interpolate": "monotone"}, "encoding": {"color": {"field": "s", "type": "nominal", "legend": null}}},
    {"transform": [{"filter": "datum.k == 'c' && datum.s == 'bl'"}], "mark": {"type": "line", "strokeWidth": 1.8, "interpolate": "monotone"}, "encoding": {"color": {"field": "s", "type": "nominal", "legend": null}}},
    {"transform": [{"filter": "datum.k == 'c' && datum.s == 'k'"}], "mark": {"type": "line", "strokeWidth": 1.6, "interpolate": "linear"}, "encoding": {"color": {"field": "s", "type": "nominal", "legend": null}}},
    {"transform": [{"filter": "datum.k == 'c' && datum.s == 'or'"}], "mark": {"type": "line", "strokeWidth": 1.7, "interpolate": "monotone"}, "encoding": {"color": {"field": "s", "type": "nominal", "legend": null}}},
    {"transform": [{"filter": "datum.k == 'r'"}], "mark": {"type": "rule", "strokeWidth": 1.5}, "encoding": {"x2": {"field": "x2"}, "y2": {"field": "y2"}, "color": {"field": "s", "type": "nominal", "legend": null}}},
    {"transform": [{"filter": "datum.k == 't'"}], "mark": {"type": "text", "font": "DejaVu Serif", "fontWeight": "bold", "fontSize": 23, "align": "left", "baseline": "alphabetic", "color": "black"}, "encoding": {"text": {"field": "t"}}},
    {"transform": [{"filter": "datum.k == 'm'"}], "mark": {"type": "text", "font": "DejaVu Serif", "fontWeight": "bold", "fontSize": 20, "align": "right", "baseline": "alphabetic", "color": "black"}, "encoding": {"text": {"field": "t"}}},
    {"transform": [{"filter": "datum.k == 'l'"}], "mark": {"type": "text", "font": "Liberation Serif", "fontWeight": "bold", "fontSize": 43, "align": "left", "baseline": "alphabetic", "color": "black"}, "encoding": {"text": {"field": "t"}}}
   ]},
  {"width": 400, "height": 292, "data": {"name": "d"}, "transform": [{"filter": "datum.p == 'c'"}],
   "encoding": {"x": {"field": "x", "type": "quantitative", "title": "Binding energy (eV)", "scale": {"domain": [67, 80], "reverse": true, "nice": false, "zero": false}}, "y": {"field": "y", "type": "quantitative", "axis": null, "scale": {"domain": [0, 100], "nice": false, "zero": false}}},
   "layer": [
    {"transform": [{"filter": "datum.k == 'c' && (datum.s == 'bg' || datum.s == 'p4')"}], "mark": {"type": "line", "strokeWidth": 1.6, "interpolate": "monotone"}, "encoding": {"color": {"field": "s", "type": "nominal", "legend": null, "scale": {"domain": ["bg","p4","r1","r2","bl","k","or","al"], "range": ["#8a2be2","#8a2be2","#d42a2a","#d42a2a","#1c1cc4","#111111","#f4a24c","#1c1cc4"]}}}},
    {"transform": [{"filter": "datum.k == 'c' && (datum.s == 'r1' || datum.s == 'r2')"}], "mark": {"type": "line", "strokeWidth": 1.6, "interpolate": "monotone"}, "encoding": {"color": {"field": "s", "type": "nominal", "legend": null}}},
    {"transform": [{"filter": "datum.k == 'c' && datum.s == 'bl'"}], "mark": {"type": "line", "strokeWidth": 1.8, "interpolate": "monotone"}, "encoding": {"color": {"field": "s", "type": "nominal", "legend": null}}},
    {"transform": [{"filter": "datum.k == 'c' && datum.s == 'k'"}], "mark": {"type": "line", "strokeWidth": 1.6, "interpolate": "linear"}, "encoding": {"color": {"field": "s", "type": "nominal", "legend": null}}},
    {"transform": [{"filter": "datum.k == 'c' && datum.s == 'or'"}], "mark": {"type": "line", "strokeWidth": 1.7, "interpolate": "monotone"}, "encoding": {"color": {"field": "s", "type": "nominal", "legend": null}}},
    {"transform": [{"filter": "datum.k == 'r'"}], "mark": {"type": "rule", "strokeWidth": 1.5}, "encoding": {"x2": {"field": "x2"}, "y2": {"field": "y2"}, "color": {"field": "s", "type": "nominal", "legend": null}}},
    {"transform": [{"filter": "datum.k == 't'"}], "mark": {"type": "text", "font": "DejaVu Serif", "fontWeight": "bold", "fontSize": 23, "align": "left", "baseline": "alphabetic", "color": "black"}, "encoding": {"text": {"field": "t"}}},
    {"transform": [{"filter": "datum.k == 'm'"}], "mark": {"type": "text", "font": "DejaVu Serif", "fontWeight": "bold", "fontSize": 20, "align": "right", "baseline": "alphabetic", "color": "black"}, "encoding": {"text": {"field": "t"}}},
    {"transform": [{"filter": "datum.k == 'l'"}], "mark": {"type": "text", "font": "Liberation Serif", "fontWeight": "bold", "fontSize": 43, "align": "left", "baseline": "alphabetic", "color": "black"}, "encoding": {"text": {"field": "t"}}}
   ]},
  {"width": 397, "height": 292, "data": {"name": "d"}, "transform": [{"filter": "datum.p == 'd'"}],
   "encoding": {"x": {"field": "x", "type": "quantitative", "title": "Binding energy (eV)", "scale": {"domain": [67, 80], "reverse": true, "nice": false, "zero": false}}, "y": {"field": "y", "type": "quantitative", "axis": null, "scale": {"domain": [0, 100], "nice": false, "zero": false}}},
   "layer": [
    {"transform": [{"filter": "datum.k == 'c' && (datum.s == 'bg' || datum.s == 'p4')"}], "mark": {"type": "line", "strokeWidth": 1.6, "interpolate": "monotone"}, "encoding": {"color": {"field": "s", "type": "nominal", "legend": null, "scale": {"domain": ["bg","p4","r1","r2","bl","k","or","al"], "range": ["#8a2be2","#8a2be2","#d42a2a","#d42a2a","#1c1cc4","#111111","#f4a24c","#1c1cc4"]}}}},
    {"transform": [{"filter": "datum.k == 'c' && (datum.s == 'r1' || datum.s == 'r2')"}], "mark": {"type": "line", "strokeWidth": 1.6, "interpolate": "monotone"}, "encoding": {"color": {"field": "s", "type": "nominal", "legend": null}}},
    {"transform": [{"filter": "datum.k == 'c' && datum.s == 'bl'"}], "mark": {"type": "line", "strokeWidth": 1.8, "interpolate": "monotone"}, "encoding": {"color": {"field": "s", "type": "nominal", "legend": null}}},
    {"transform": [{"filter": "datum.k == 'c' && datum.s == 'k'"}], "mark": {"type": "line", "strokeWidth": 1.6, "interpolate": "linear"}, "encoding": {"color": {"field": "s", "type": "nominal", "legend": null}}},
    {"transform": [{"filter": "datum.k == 'c' && datum.s == 'or'"}], "mark": {"type": "line", "strokeWidth": 1.7, "interpolate": "monotone"}, "encoding": {"color": {"field": "s", "type": "nominal", "legend": null}}},
    {"transform": [{"filter": "datum.k == 'r'"}], "mark": {"type": "rule", "strokeWidth": 1.5}, "encoding": {"x2": {"field": "x2"}, "y2": {"field": "y2"}, "color": {"field": "s", "type": "nominal", "legend": null}}},
    {"transform": [{"filter": "datum.k == 't'"}], "mark": {"type": "text", "font": "DejaVu Serif", "fontWeight": "bold", "fontSize": 23, "align": "left", "baseline": "alphabetic", "color": "black"}, "encoding": {"text": {"field": "t"}}},
    {"transform": [{"filter": "datum.k == 'm'"}], "mark": {"type": "text", "font": "DejaVu Serif", "fontWeight": "bold", "fontSize": 20, "align": "right", "baseline": "alphabetic", "color": "black"}, "encoding": {"text": {"field": "t"}}},
    {"transform": [{"filter": "datum.k == 'l'"}], "mark": {"type": "text", "font": "Liberation Serif", "fontWeight": "bold", "fontSize": 43, "align": "left", "baseline": "alphabetic", "color": "black"}, "encoding": {"text": {"field": "t"}}}
   ]}
],
"config": {
  "view": {"stroke": "black", "strokeWidth": 2},
  "axisX": {
    "values": [68,69,70,71,72,73,74,75,76,77,78,79,80],
    "labelExpr": "datum.value % 2 == 0 ? datum.label : ''",
    "labelFont": "Liberation Serif", "labelFontWeight": "bold", "labelFontSize": 28, "labelColor": "black",
    "labelPadding": 10, "labelDx": 4, "labelFlush": false, "labelOverlap": false,
    "tickColor": "black", "tickWidth": 2, "tickSize": 6,
    "domain": false, "grid": false,
    "titleFont": "DejaVu Serif", "titleFontWeight": "bold", "titleFontSize": 22, "titleColor": "black", "titlePadding": 8
  }
}
}
